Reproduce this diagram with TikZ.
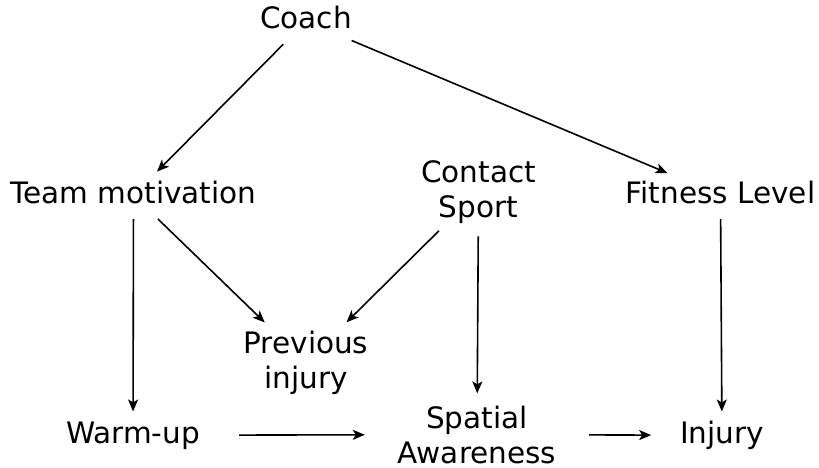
\documentclass[tikz,border=0pt]{standalone}
\usepackage{fontspec}
\setmainfont{DejaVu Sans}
\usetikzlibrary{shapes.geometric,arrows.meta}
\begin{document}
\begin{tikzpicture}[x=1pt, y=-1pt]
   \tikzstyle{nod1} = [ellipse, inner xsep=8pt, inner ysep=2pt,
                       anchor=base, text height=22.4pt, text depth=7.1pt,
                       font=\fontsize{29.5}{35}\selectfont];
   \tikzstyle{nod2} = [ellipse, inner sep=0pt, anchor=base,
                       align=center, font=\fontsize{29.5}{35}\selectfont];
   \tikzstyle{gd} = [black, line width=1.6pt,
                     -{Stealth[length=12pt, width=10pt, inset=3pt]}];

   \useasboundingbox (0,0) rectangle (819,468);

    \node[nod1] (coach) at  (306,29){Coach};

    \node[nod1] (team) at  (133.5,203){Team motivation};
    \node[nod2] (sport) at  (478.5,217){Contact\\Sport};
    \node[nod1] (fit) at  (720.5,203){Fitness Level};

    \node[nod2] (prev) at  (306,388){Previous\\injury};

    \node[nod1] (warm) at  (133,443){Warm-up};
    \node[nod2] (spat) at  (477,463){Spatial\\Awareness};
    \node[nod1] (inj) at  (722,443){Injury};

    \path[gd] (coach) edge  (team);
    \path[gd] (coach) edge  (fit);

    \path[gd] (team) edge  (warm);
    \path[gd] (team) edge  (prev);

    \path[gd] (sport) edge  (prev);
    \path[gd] (sport) edge  (spat);

    \path[gd] (fit) edge  (inj);

    \path[gd] (warm) edge  (spat);
    \path[gd] (spat) edge  (inj);

  \end{tikzpicture}
\end{document}
